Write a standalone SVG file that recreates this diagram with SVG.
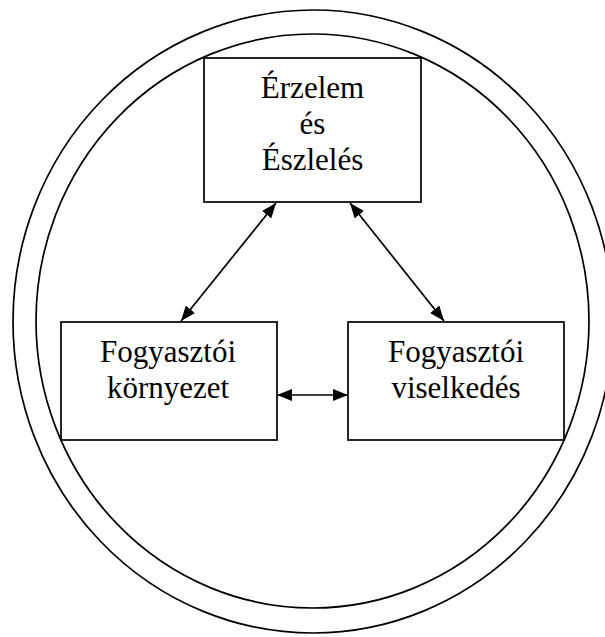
<svg xmlns="http://www.w3.org/2000/svg" width="605" height="637" viewBox="0 0 605 637">
<style>
.ring{fill:none;stroke:#000;stroke-width:1.7}
.box{fill:#fff;stroke:#000;stroke-width:1.7}
.lbl{font-family:"Liberation Serif","Times New Roman",serif;font-size:31px;fill:#000;text-anchor:middle}
.conn{stroke:#000;stroke-width:1.7;fill:none;marker-start:url(#ah);marker-end:url(#ah)}
</style>
<defs>
<marker id="ah" markerUnits="userSpaceOnUse" markerWidth="15" markerHeight="12" refX="15" refY="6" orient="auto-start-reverse">
<path d="M0,0 L15,6 L0,12 z" fill="#000"/>
</marker>
</defs>
<rect width="605" height="637" fill="#fff"/>
<g id="outer-ring"><ellipse class="ring" cx="313" cy="321.5" rx="300" ry="311.5"/></g>
<g id="inner-ring"><ellipse class="ring" cx="312.5" cy="321" rx="276.5" ry="287"/></g>
<g id="node-erzelem">
<rect class="box" x="204" y="58" width="217" height="144"/>
<text class="lbl" x="312.5" y="98">Érzelem</text>
<text class="lbl" x="312.5" y="134">és</text>
<text class="lbl" x="312.5" y="170">Észlelés</text>
</g>
<g id="node-kornyezet">
<rect class="box" x="61" y="322" width="216" height="118"/>
<text class="lbl" x="168" y="362">Fogyasztói</text>
<text class="lbl" x="168" y="398">környezet</text>
</g>
<g id="node-viselkedes">
<rect class="box" x="348" y="322" width="216" height="118"/>
<text class="lbl" x="456" y="362">Fogyasztói</text>
<text class="lbl" x="456" y="398">viselkedés</text>
</g>
<g id="connectors">
<line class="conn" x1="276" y1="203" x2="181" y2="321"/>
<line class="conn" x1="350" y1="203" x2="444" y2="321"/>
<line class="conn" x1="277" y1="395" x2="348" y2="395"/>
</g>
</svg>
